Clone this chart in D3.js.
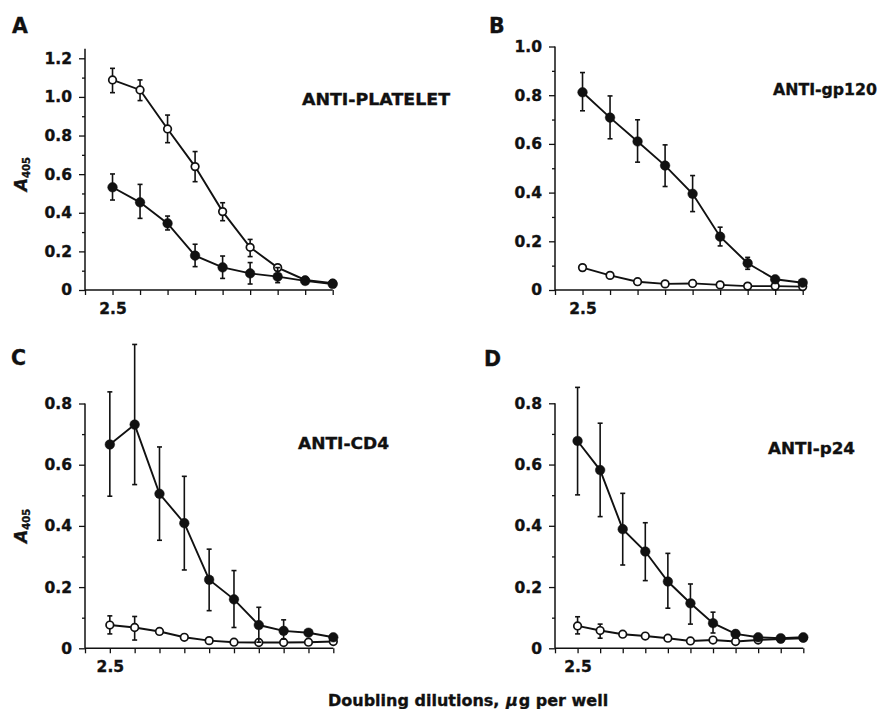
<!DOCTYPE html>
<html>
<head>
<meta charset="utf-8">
<script src="https://cdn.jsdelivr.net/npm/d3@7"></script>
<style>
    body { margin: 0; background: #fff; }
    svg text { font-family: "DejaVu Sans", sans-serif; font-weight: bold; fill: #111; stroke: #111; stroke-width: 0.35px; }
</style>
</head>
<body>
<script>
// panel A - anti-platelet (9 dilutions)
const aOpen     = [1.088, 1.036, 0.834, 0.639, 0.406, 0.221, 0.116, 0.052, 0.035];
const aOpenHi   = [1.148, 1.088, 0.906, 0.717, 0.452, 0.262, null, null, null];
const aOpenLo   = [1.022, 0.981, 0.763, 0.561, 0.359, 0.173, null, null, null];
const aFilled   = [0.532, 0.454, 0.345, 0.178, 0.117, 0.086, 0.069, 0.047, 0.031];
const aFilledHi = [0.601, 0.547, 0.383, 0.237, 0.176, 0.142, 0.116, null, null];
const aFilledLo = [0.466, 0.371, 0.311, 0.121, 0.060, 0.031, 0.038, null, null];

// panel B - anti-gp120 (9 dilutions)
const bFilled   = [0.812, 0.708, 0.610, 0.511, 0.395, 0.219, 0.110, 0.044, 0.030];
const bFilledHi = [0.893, 0.797, 0.699, 0.596, 0.470, 0.258, 0.134, null, null];
const bFilledLo = [0.736, 0.621, 0.525, 0.425, 0.322, 0.181, 0.085, null, null];
const bOpen     = [0.092, 0.060, 0.034, 0.025, 0.027, 0.021, 0.016, 0.016, 0.014];

// panel C - anti-CD4 (10 dilutions)
const cFilled   = [0.666, 0.731, 0.505, 0.409, 0.224, 0.160, 0.076, 0.057, 0.051, 0.036];
const cFilledHi = [0.838, 0.993, 0.658, 0.562, 0.324, 0.254, 0.134, 0.093, null, null];
const cFilledLo = [0.497, 0.535, 0.353, 0.256, 0.123, 0.068, 0.020, 0.030, null, null];
const cOpen     = [0.076, 0.068, 0.055, 0.036, 0.025, 0.020, 0.019, 0.019, 0.020, 0.022];
const cOpenHi   = [0.106, 0.104, null, null, null, null, null, null, null, null];
const cOpenLo   = [0.047, 0.027, null, null, null, null, null, null, null, null];

// panel D - anti-p24 (11 dilutions)
const dFilled   = [0.677, 0.582, 0.389, 0.316, 0.218, 0.147, 0.082, 0.047, 0.036, 0.033, 0.036];
const dFilledHi = [0.852, 0.735, 0.506, 0.410, 0.310, 0.210, 0.118, null, null, null, null];
const dFilledLo = [0.501, 0.430, 0.272, 0.221, 0.131, 0.079, 0.050, null, null, null, null];
const dOpen     = [0.073, 0.058, 0.046, 0.040, 0.033, 0.024, 0.027, 0.022, 0.027, 0.030, 0.033];
const dOpenHi   = [0.103, 0.079, null, null, null, null, null, null, null, null, null];
const dOpenLo   = [0.047, 0.033, null, null, null, null, null, null, null, null, null];

// tick labels
const ticksTo12 = [0, 0.2, 0.4, 0.6, 0.8, 1.0, 1.2];
const ticksTo10 = [0, 0.2, 0.4, 0.6, 0.8, 1.0];
const ticksTo08 = [0, 0.2, 0.4, 0.6, 0.8];
const firstDilutionLabel = '2.5';
const xTitle = 'Doubling dilutions, ';

const width = 883;
const height = 709;
const ink = '#111';

const svg = d3.select('body')
              .append('svg')
                .attr('width', width)
                .attr('height', height);

const panels = [
    {letter: 'A', title: 'ANTI-PLATELET', yLabel: true,
     xRange: [85, 332.7], yRange: [290, 58.3], yMax: 1.2, axisTop: 1.25, ticks: ticksTo12,
     letterPos: [12, 33], titlePos: [302, 105, 148],
     series: [
        {values: aOpen, hi: aOpenHi, lo: aOpenLo, filled: false},
        {values: aFilled, hi: aFilledHi, lo: aFilledLo, filled: true}]},
    {letter: 'B', title: 'ANTI-gp120', yLabel: false,
     xRange: [555, 802.7], yRange: [290, 46.5], yMax: 1.0, axisTop: 1.0, ticks: ticksTo10,
     letterPos: [489, 33], titlePos: [773, 95, 104],
     series: [
        {values: bOpen, hi: null, lo: null, filled: false},
        {values: bFilled, hi: bFilledHi, lo: bFilledLo, filled: true}]},
    {letter: 'C', title: 'ANTI-CD4', yLabel: true,
     xRange: [85, 333.3], yRange: [648.3, 403.5], yMax: 0.8, axisTop: 0.8, ticks: ticksTo08,
     letterPos: [11, 365], titlePos: [298, 449, 91],
     series: [
        {values: cOpen, hi: cOpenHi, lo: cOpenLo, filled: false},
        {values: cFilled, hi: cFilledHi, lo: cFilledLo, filled: true}]},
    {letter: 'D', title: 'ANTI-p24', yLabel: false,
     xRange: [555, 803.3], yRange: [648.3, 403.3], yMax: 0.8, axisTop: 0.8, ticks: ticksTo08,
     letterPos: [484, 366], titlePos: [768, 454, 87],
     series: [
        {values: dOpen, hi: dOpenHi, lo: dOpenLo, filled: false},
        {values: dFilled, hi: dFilledHi, lo: dFilledLo, filled: true}]},
];

const fmt = (d) => d === 0 ? '0' : d3.format('.1f')(d);

panels.forEach((p) => {
    const n = p.series[0].values.length;
    const x = d3.scaleLinear().domain([0, n]).range(p.xRange);
    const y = d3.scaleLinear().domain([0, p.yMax]).range(p.yRange);
    const g = svg.append('g');

    // y axis: major ticks with labels, minor ticks in between
    const minor = d3.range(0.1, p.axisTop, 0.2).filter((v) => v < p.axisTop - 0.01);
    g.append('g')
        .attr('transform', `translate(${p.xRange[0]}, 0)`)
        .call(d3.axisLeft(y).tickValues(minor).tickSize(3).tickFormat(''))
        .call((s) => s.select('.domain').remove());
    const yAxis = g.append('g')
        .attr('transform', `translate(${p.xRange[0]}, 0)`)
        .call(d3.axisLeft(y).tickValues(p.ticks).tickSize(6).tickPadding(7).tickFormat(fmt));
    yAxis.select('.domain').remove();
    yAxis.selectAll('text').style('font-size', '15.5px');

    // x axis
    const xAxis = g.append('g')
        .attr('transform', `translate(0, ${p.yRange[0]})`)
        .call(d3.axisBottom(x).tickValues(d3.range(0, n + 1)).tickSize(5).tickPadding(8)
                .tickFormat((i) => i === 1 ? firstDilutionLabel : ''));
    xAxis.select('.domain').remove();
    xAxis.selectAll('text').style('font-size', '15.5px');

    g.selectAll('.tick line').attr('stroke', ink).attr('stroke-width', 1.3);

    // axis lines
    g.append('line')
        .attr('x1', x(0)).attr('x2', x(0))
        .attr('y1', y(0)).attr('y2', y(p.axisTop))
        .attr('stroke', ink).attr('stroke-width', 1.5);
    g.append('line')
        .attr('x1', x(0)).attr('x2', x(n))
        .attr('y1', y(0)).attr('y2', y(0))
        .attr('stroke', ink).attr('stroke-width', 1.5);

    // panel letter and title
    svg.append('text')
        .attr('x', p.letterPos[0]).attr('y', p.letterPos[1])
        .style('font-size', '20.5px')
        .text(p.letter);
    svg.append('text')
        .attr('x', p.titlePos[0]).attr('y', p.titlePos[1])
        .attr('textLength', p.titlePos[2]).attr('lengthAdjust', 'spacingAndGlyphs')
        .style('font-size', '16px')
        .text(p.title);

    if (p.yLabel) {
        const cy = (y(0) + y(p.yMax)) / 2;
        const lab = svg.append('text')
            .attr('transform', `translate(27, ${cy}) rotate(-90)`)
            .attr('text-anchor', 'middle')
            .style('font-size', '17px');
        lab.append('tspan').style('font-style', 'italic').text('A');
        lab.append('tspan').attr('dy', 3).style('font-size', '10px').text('405');
    }

    const line = d3.line()
        .x((d, i) => x(i + 1))
        .y((d) => y(d));

    p.series.forEach((s) => {
        g.append('path')
            .datum(s.values)
            .attr('fill', 'none')
            .attr('stroke', ink)
            .attr('stroke-width', 1.9)
            .attr('d', line);

        if (s.hi) {
            const bars = s.values.map((v, i) => ({i: i, hi: s.hi[i], lo: s.lo[i]}))
                                 .filter((b) => b.hi !== null);
            const eb = g.selectAll(null).data(bars).enter().append('g')
                        .attr('stroke', ink).attr('stroke-width', 1.6);
            eb.append('line')
                .attr('x1', (b) => x(b.i + 1)).attr('x2', (b) => x(b.i + 1))
                .attr('y1', (b) => y(b.hi)).attr('y2', (b) => y(b.lo));
            eb.append('line')
                .attr('x1', (b) => x(b.i + 1) - 2.5).attr('x2', (b) => x(b.i + 1) + 2.5)
                .attr('y1', (b) => y(b.hi)).attr('y2', (b) => y(b.hi));
            eb.append('line')
                .attr('x1', (b) => x(b.i + 1) - 2.5).attr('x2', (b) => x(b.i + 1) + 2.5)
                .attr('y1', (b) => y(b.lo)).attr('y2', (b) => y(b.lo));
        }

        g.selectAll(null)
            .data(s.values)
            .enter()
              .append('circle')
                .attr('cx', (d, i) => x(i + 1))
                .attr('cy', (d) => y(d))
                .attr('r', s.filled ? 4.8 : 3.8)
                .attr('fill', s.filled ? ink : '#fff')
                .attr('stroke', ink)
                .attr('stroke-width', s.filled ? 0.5 : 1.7);
    });
});

// shared x title
const xt = svg.append('text')
    .attr('x', 328).attr('y', 706)
    .style('font-size', '16px');
xt.append('tspan').text(xTitle);
xt.append('tspan').attr('dx', 1).style('font-style', 'italic').text('\u03bc');
xt.append('tspan').attr('dx', 1).text('g per well');
</script>
</body>
</html>
